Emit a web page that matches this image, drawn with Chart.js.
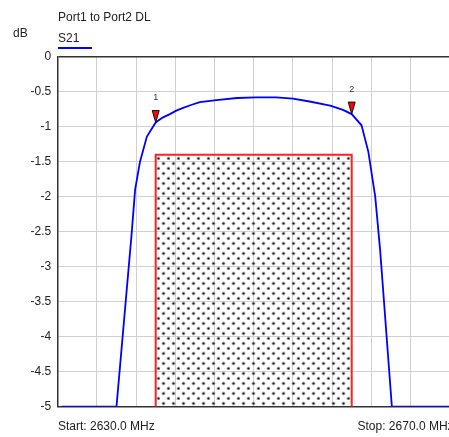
<!DOCTYPE html>
<html>
<head>
<meta charset="utf-8">
<script src="https://cdn.jsdelivr.net/npm/chart.js@4.4.1/dist/chart.umd.min.js"></script>
<style>
  html, body { margin: 0; padding: 0; background: #fff; overflow: hidden; }
  body { width: 449px; height: 437px; position: relative; font-family: "Liberation Sans", Arial, sans-serif; color: #222; }
  #wrap { position: absolute; left: 0; top: 0; width: 460px; height: 437px; }
  .lbl { position: absolute; font-size: 12px; line-height: 12px; white-space: nowrap; }
  #underline { position: absolute; left: 58px; top: 47px; width: 34px; height: 2px; background: #0000ff; }
</style>
</head>
<body>
<div id="wrap"><canvas id="chart" width="460" height="437"></canvas></div>
<div class="lbl" style="left:13px; top:26.5px;">dB</div>
<div class="lbl" style="left:58px; top:10.5px;">Port1 to Port2 DL</div>
<div class="lbl" style="left:58px; top:32px;">S21</div>
<div id="underline"></div>
<div class="lbl" style="left:58px; top:420px;">Start: 2630.0 MHz</div>
<div class="lbl" style="left:357.5px; top:420px;">Stop: 2670.0 MHz</div>
<script>
// S21 trace (MHz, dB)
const freqMHz = [2630.4, 2636.0, 2637.55, 2637.9, 2638.4, 2639.1, 2640.0, 2640.7, 2641.45, 2642.1,
                 2642.8, 2643.6, 2644.5, 2646.2, 2648.3, 2650.3, 2652.3, 2654.0, 2655.7, 2657.8,
                 2658.5, 2659.1, 2660.0, 2661.0, 2661.7, 2662.4, 2662.9, 2664.1, 2670.0];
const s21dB = [-5, -5, -2.52, -1.9, -1.5, -1.14, -0.94, -0.87, -0.82, -0.77,
               -0.73, -0.69, -0.65, -0.62, -0.59, -0.58, -0.58, -0.6, -0.64, -0.7,
               -0.73, -0.76, -0.82, -0.98, -1.36, -2.0, -2.76, -5, -5];

// limit mask box
const maskFreq = [2640, 2640, 2660, 2660];
const maskDb = [-5, -1.4, -1.4, -5];

// markers
const markerName = ["1", "2"];
const markerFreq = [2640, 2660];
const markerDb = [-0.94, -0.82];

const yTickLabels = ["0", "-0.5", "-1", "-1.5", "-2", "-2.5", "-3", "-3.5", "-4", "-4.5", "-5"];

function dotPattern() {
  const c = document.createElement("canvas");
  c.width = 10; c.height = 10;
  const g = c.getContext("2d");
  [[3.5, 3.5], [8.5, 8.5]].forEach(p => {
    g.fillStyle = "rgba(110,110,110,0.45)";
    g.beginPath(); g.arc(p[0], p[1], 2.0, 0, Math.PI * 2); g.fill();
    g.fillStyle = "#1a1a1a";
    g.beginPath(); g.arc(p[0], p[1], 1.1, 0, Math.PI * 2); g.fill();
  });
  return g.createPattern(c, "repeat");
}

const markerPlugin = {
  id: "markers",
  afterDatasetsDraw(chart) {
    const { ctx, scales: { x, y } } = chart;
    ctx.save();
    markerFreq.forEach((f, i) => {
      const px = x.getPixelForValue(f);
      const py = y.getPixelForValue(markerDb[i]);
      ctx.beginPath();
      ctx.moveTo(px, py);
      ctx.lineTo(px - 3.5, py - 12);
      ctx.lineTo(px + 3.5, py - 12);
      ctx.closePath();
      ctx.fillStyle = "#ff0000";
      ctx.fill();
      ctx.strokeStyle = "#111";
      ctx.lineWidth = 1;
      ctx.stroke();
      ctx.fillStyle = "#333";
      ctx.font = '9px "Liberation Sans", Arial, sans-serif';
      ctx.textAlign = "center";
      ctx.textBaseline = "middle";
      ctx.fillText(markerName[i], px, py - 25);
    });
    ctx.restore();
  }
};

const edge = v => (v === 0 || v === -5) ? "#333" : "#d0d0d0";

new Chart(document.getElementById("chart"), {
  type: "line",
  data: {
    datasets: [
      {
        label: "S21",
        data: freqMHz.map((f, i) => ({ x: f, y: s21dB[i] })),
        borderColor: "#0000ff",
        borderWidth: 1.8,
        pointRadius: 0,
        tension: 0,
        fill: false
      },
      {
        label: "mask",
        data: maskFreq.map((f, i) => ({ x: f, y: maskDb[i] })),
        borderColor: "#ff2020",
        borderWidth: 2,
        pointRadius: 0,
        tension: 0,
        fill: "start",
        backgroundColor: dotPattern()
      }
    ]
  },
  options: {
    responsive: false,
    animation: false,
    layout: { padding: { top: 56.7, bottom: 30.3, left: 0, right: 10.3 } },
    plugins: { legend: { display: false }, tooltip: { enabled: false } },
    scales: {
      x: {
        type: "linear",
        min: 2630, max: 2670,
        ticks: { stepSize: 4, display: false },
        grid: { color: "#d0d0d0", lineWidth: 1, drawTicks: false },
        border: { display: true, color: "#333", width: 1.5 },
        afterFit: s => { s.height = 0; }
      },
      y: {
        min: -5, max: 0,
        ticks: {
          stepSize: 0.5,
          padding: 6.5,
          color: "#222",
          font: { family: '"Liberation Sans", Arial, sans-serif', size: 12 },
          callback: (v, i, ticks) => yTickLabels[Math.round(-v / 0.5)]
        },
        grid: { color: c => edge(c.tick.value), lineWidth: c => (c.tick.value === 0 ? 1.5 : 1), drawTicks: false },
        border: { display: true, color: "#333", width: 1.5 },
        afterFit: s => { s.width = 57.7; }
      }
    }
  },
  plugins: [markerPlugin]
});
</script>
</body>
</html>
